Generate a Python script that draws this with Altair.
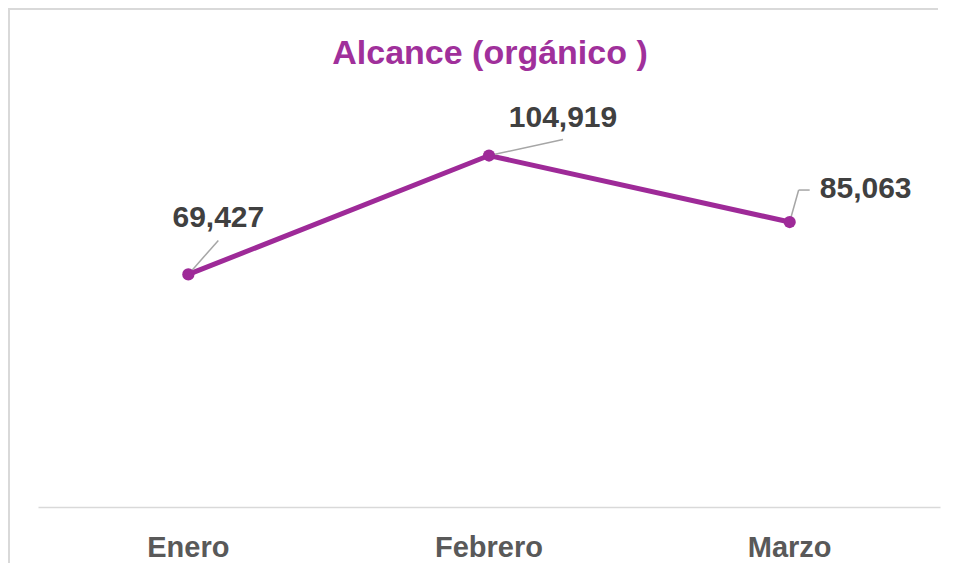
import altair as alt
import pandas as pd

months = ["Enero", "Febrero", "Marzo"]
alcance = [69427, 104919, 85063]
labels = ["69,427", "104,919", "85,063"]
title_text = ["Alcance (orgánico )"]

df = pd.DataFrame({"mes": months, "valor": alcance, "etiqueta": labels})
df_title = pd.DataFrame({"t": title_text})

PURPLE = "#9E2A98"
LEADER = "#A6A6A6"
FONT = "Liberation Sans"

x = alt.X("mes:N", sort=months, title=None,
          scale=alt.Scale(type="band", paddingInner=0, paddingOuter=0),
          axis=alt.Axis(labelAngle=0, labelFont=FONT, labelFontSize=29,
                        labelFontWeight="bold", labelColor="#595959",
                        labelBaseline="alphabetic", labelPadding=49,
                        ticks=False, tickSize=0, grid=False,
                        domainColor="#D9D9D9", domainWidth=1.5))
y = alt.Y("valor:Q", title=None,
          scale=alt.Scale(domain=[0, 120000], nice=False, zero=True),
          axis=None)

base = alt.Chart(df).encode(x=x, y=y)

# outer chart border (decoration): left and top edges, kept inside the canvas
border_left = alt.Chart(df_title).mark_rule(color="#D9D9D9", strokeWidth=2).encode(
    x=alt.value(-29), x2=alt.value(-29), y=alt.value(-97), y2=alt.value(460))
border_top = alt.Chart(df_title).mark_rule(color="#D9D9D9", strokeWidth=2).encode(
    x=alt.value(-30), x2=alt.value(900), y=alt.value(-96), y2=alt.value(-96))

title = alt.Chart(df_title).mark_text(
    font=FONT, fontSize=34, fontWeight="bold", color="#A0309B",
    align="center", baseline="alphabetic").encode(
    x=alt.value(452), y=alt.value(-41), text="t:N")

line = base.mark_line(color=PURPLE, strokeWidth=5)
points = base.mark_point(filled=True, color=PURPLE, size=150, opacity=1)

# per-label leader lines and text offsets
offsets = {
    "Enero": dict(tx=30, ty=-47, lx=30, ly=-34),
    "Febrero": dict(tx=74, ty=-29, lx=74, ly=-16),
    "Marzo": dict(tx=76, ty=-24, lx=9, ly=-32),
}

layers = [border_left, border_top, title, line]
for m in months:
    o = offsets[m]
    sub = base.transform_filter(alt.datum.mes == m)
    layers.append(sub.mark_rule(color=LEADER, strokeWidth=1.5,
                                x2Offset=o["lx"], y2Offset=o["ly"])
                  .encode(x2="mes:N", y2="valor:Q"))
    if m == "Marzo":
        layers.append(sub.mark_rule(color=LEADER, strokeWidth=1.5,
                                    xOffset=o["lx"], yOffset=o["ly"],
                                    x2Offset=20, y2Offset=o["ly"])
                      .encode(x2="mes:N", y2="valor:Q"))
    layers.append(sub.mark_text(font=FONT, fontSize=30, fontWeight="bold",
                                color="#404040", align="center",
                                baseline="alphabetic", dx=o["tx"], dy=o["ty"])
                  .encode(text="etiqueta:N"))
layers.append(points)

chart = alt.layer(*layers).properties(
    width=902, height=402,
    autosize=alt.AutoSizeParams(type="none"),
    padding={"left": 30, "top": 97, "right": 10, "bottom": 56},
).configure_view(stroke=None)

chart.save("out.html", embed_options={"renderer": "svg", "actions": False})
